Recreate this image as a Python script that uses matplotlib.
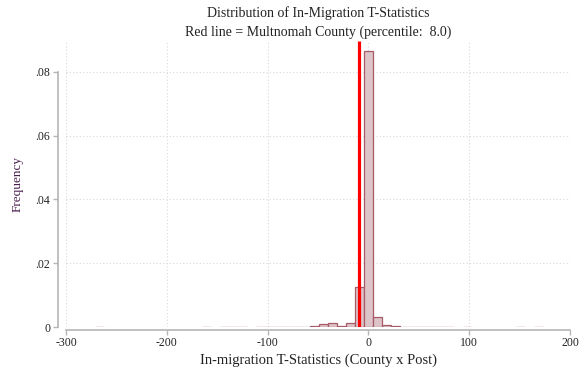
import numpy as np
import matplotlib
matplotlib.use("Agg")
from matplotlib import pyplot as plt

# histogram bins (left edge, density height)
bin_width = 8.9
bin_left = [-271.45, -164.65, -146.85, -137.95, -129.05, -111.25, -102.35,
            -93.45, -84.55, -75.65, -66.75, -57.85, -48.95, -40.05, -31.15,
            -22.25, -13.35, -4.45, 4.45, 13.35, 22.25, 31.15, 40.05, 48.95,
            57.85, 66.75, 75.65, 93.45, 146.85, 164.65]
freq = [0.0001, 0.0001, 0.0001, 0.0001, 0.0001, 0.0001, 0.0001,
        0.00005, 0.00005, 0.00005, 0.0001, 0.0004, 0.0008, 0.0011, 0.0004,
        0.0013, 0.0125, 0.0865, 0.0032, 0.0006, 0.0003, 0.0001, 0.0001, 0.0001,
        0.00005, 0.00005, 0.00005, 0.0001, 0.0001, 0.0001]
county_t = -9.5

xticks = [-300, -200, -100, 0, 100, 200]
yticks = [0, 0.02, 0.04, 0.06, 0.08]
ytick_labels = ["0", ".02", ".04", ".06", ".08"]

plt.rcParams['font.family'] = ['Liberation Serif', 'DejaVu Serif']
plt.rcParams['axes.unicode_minus'] = False

fig = plt.figure(figsize=(5.85, 3.72), dpi=100)
ax = fig.add_axes([66/585, 45/372, 504/585, 286/372])
ytop = 0.0897

ax.grid(True, linestyle=(0, (1, 2)), color='#d9d9d9', linewidth=0.8)
ax.set_axisbelow(True)

ax.bar(bin_left, freq, width=bin_width, align='edge',
       color='#dcc4c8', edgecolor='#a85a66', linewidth=0.9)
ax.vlines(county_t, 0, ytop, color='#ff0000', linewidth=2.3)

ax.set_xlim(-300, 200)
ax.set_ylim(0, ytop)
ax.set_xticks(xticks)
ax.set_yticks(yticks)
ax.set_yticklabels(ytick_labels)

for s in ['top', 'right']:
    ax.spines[s].set_visible(False)
ax.spines['left'].set_position(('outward', 6))
ax.spines['bottom'].set_position(('outward', 2))
for s in ['left', 'bottom']:
    ax.spines[s].set_color('#b5b5b5')
    ax.spines[s].set_linewidth(1.2)
ax.spines['left'].set_bounds(0, 0.08)
ax.spines['bottom'].set_bounds(-300, 200)
ax.tick_params(colors='#b5b5b5', labelcolor='#222222', labelsize=8.5,
               length=3.5, width=1.0, pad=2)

ax.set_xlabel("In-migration T-Statistics (County x Post)", fontsize=10.5,
              color='#222222', labelpad=3)
ax.set_ylabel("Frequency", fontsize=9.5, color='#4a1f4f', labelpad=8)

cx = (66 + 570) / 2 / 585
fig.text(cx, 1 - 13/372, "Distribution of In-Migration T-Statistics",
         ha='center', va='center', fontsize=10, color='#222222')
fig.text(cx, 1 - 32/372, "Red line = Multnomah County (percentile:  8.0)",
         ha='center', va='center', fontsize=10, color='#222222')

fig.savefig("out.png", dpi=100)
